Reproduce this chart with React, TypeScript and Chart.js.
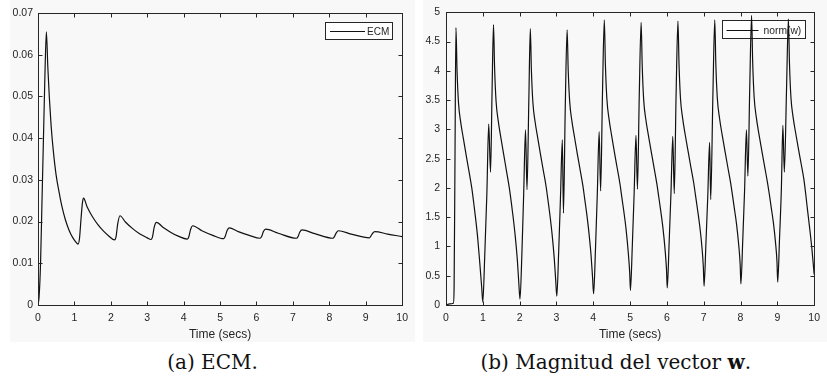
import React, { useEffect, useRef } from "react";
import { Chart, registerables } from "chart.js";

Chart.register(...registerables);

// ---------------- data ----------------
const timeTicks = [0, 1, 2, 3, 4, 5, 6, 7, 8, 9, 10];
const ecmTicks = [0, 0.01, 0.02, 0.03, 0.04, 0.05, 0.06, 0.07];
const normTicks = [0, 0.5, 1, 1.5, 2, 2.5, 3, 3.5, 4, 4.5, 5];

const ecmLabel = "ECM";
const normLabel = "norm(w)";
const xAxisTitle = "Time (secs)";
const captionA = "(a) ECM.";
const captionBText = "(b) Magnitud del vector ";
const captionBBold = "w";
const captionBEnd = ".";

const ecmTime = [
  0, 0.03, 0.07, 0.11, 0.15, 0.19, 0.23, 0.27, 0.31, 0.36, 0.42, 0.5, 0.58, 0.66, 0.75, 0.85, 0.95, 1.03, 1.1,
  1.14, 1.18, 1.22, 1.25, 1.35, 1.5, 1.65, 1.8, 1.95, 2.1,
  2.14, 2.19, 2.25, 2.4, 2.6, 2.8, 3.0, 3.1,
  3.14, 3.19, 3.25, 3.45, 3.65, 3.85, 4.1,
  4.14, 4.19, 4.25, 4.5, 4.8, 5.1,
  5.14, 5.19, 5.25, 5.5, 5.8, 6.1,
  6.14, 6.19, 6.25, 6.6, 7.1,
  7.14, 7.19, 7.25, 7.6, 8.1,
  8.14, 8.19, 8.25, 8.6, 9.1,
  9.14, 9.19, 9.25, 9.6, 10,
];
const ecmValues = [
  0, 0.002, 0.01, 0.025, 0.04, 0.055, 0.0655, 0.057, 0.05, 0.043, 0.037, 0.031, 0.027, 0.0235, 0.0205, 0.018, 0.0162, 0.0152, 0.0146,
  0.016, 0.0205, 0.0245, 0.0256, 0.0235, 0.0211, 0.0192, 0.0177, 0.0165, 0.0156,
  0.0162, 0.0195, 0.0214, 0.0199, 0.0183, 0.017, 0.0161, 0.0157,
  0.0162, 0.0186, 0.0198, 0.0185, 0.0174, 0.0165, 0.0158,
  0.0163, 0.0181, 0.019, 0.0178, 0.0167, 0.0159,
  0.0164, 0.0178, 0.0185, 0.0176, 0.0167, 0.016,
  0.0164, 0.0176, 0.0182, 0.0172, 0.016,
  0.0164, 0.0175, 0.018, 0.0171, 0.016,
  0.0164, 0.0173, 0.0178, 0.017, 0.0161,
  0.0165, 0.0172, 0.0176, 0.017, 0.0164,
];

const normTime = [
  0, 0.1, 0.2, 0.22, 0.245, 0.27, 0.3, 0.34, 0.4, 0.47, 0.55, 0.62, 0.7, 0.75, 0.8, 0.86, 0.92, 0.97, 1.0,
  1.05, 1.11, 1.16, 1.21, 1.25, 1.29, 1.32, 1.36, 1.42, 1.49, 1.57, 1.64, 1.72, 1.77, 1.82, 1.88, 1.94, 1.98, 2.01,
  2.06, 2.11, 2.16, 2.2, 2.25, 2.29, 2.32, 2.36, 2.42, 2.49, 2.57, 2.64, 2.72, 2.77, 2.82, 2.88, 2.94, 2.98, 3.01,
  3.06, 3.11, 3.16, 3.19, 3.24, 3.29, 3.32, 3.36, 3.42, 3.49, 3.57, 3.64, 3.72, 3.77, 3.82, 3.88, 3.94, 3.98, 4.01,
  4.06, 4.11, 4.16, 4.2, 4.25, 4.3, 4.33, 4.37, 4.43, 4.5, 4.58, 4.65, 4.73, 4.78, 4.83, 4.89, 4.95, 4.99, 5.01,
  5.06, 5.11, 5.16, 5.2, 5.25, 5.3, 5.33, 5.37, 5.43, 5.5, 5.58, 5.65, 5.73, 5.78, 5.83, 5.89, 5.95, 5.99, 6.01,
  6.06, 6.11, 6.16, 6.2, 6.25, 6.3, 6.33, 6.37, 6.43, 6.5, 6.58, 6.65, 6.73, 6.78, 6.83, 6.89, 6.95, 6.99, 7.01,
  7.06, 7.11, 7.16, 7.19, 7.25, 7.3, 7.33, 7.37, 7.43, 7.5, 7.58, 7.65, 7.73, 7.78, 7.83, 7.89, 7.95, 7.99, 8.01,
  8.06, 8.11, 8.16, 8.2, 8.25, 8.3, 8.33, 8.37, 8.43, 8.5, 8.58, 8.65, 8.73, 8.78, 8.83, 8.89, 8.95, 8.99, 9.01,
  9.06, 9.11, 9.15, 9.19, 9.25, 9.3, 9.33, 9.37, 9.43, 9.5, 9.58, 9.65, 9.72, 9.77, 9.82, 9.88, 9.94, 10.0,
];
const normValues = [
  0, 0.02, 0.03, 0.3, 2.6, 4.74, 4.0, 3.45, 3.12, 2.85, 2.55, 2.3, 2.0, 1.76, 1.5, 1.15, 0.7, 0.3, 0.05,
  0.8, 1.9, 3.09, 2.27, 3.6, 4.79, 4.05, 3.48, 3.14, 2.86, 2.56, 2.3, 2.0, 1.77, 1.52, 1.18, 0.75, 0.35, 0.1,
  0.85, 1.9, 2.99, 1.97, 3.5, 4.72, 4.0, 3.46, 3.13, 2.86, 2.56, 2.31, 2.02, 1.79, 1.55, 1.22, 0.8, 0.42, 0.15,
  0.9, 1.85, 2.82, 1.57, 3.4, 4.7, 4.0, 3.47, 3.14, 2.87, 2.57, 2.32, 2.03, 1.8, 1.57, 1.25, 0.85, 0.48, 0.19,
  0.95, 1.9, 2.96, 1.95, 3.6, 4.87, 4.1, 3.52, 3.17, 2.89, 2.59, 2.34, 2.05, 1.82, 1.6, 1.3, 0.9, 0.55, 0.25,
  1.0, 1.9, 2.9, 1.98, 3.6, 4.83, 4.08, 3.5, 3.16, 2.89, 2.6, 2.35, 2.06, 1.84, 1.62, 1.33, 0.95, 0.6, 0.29,
  1.05, 1.9, 2.88, 1.9, 3.6, 4.85, 4.1, 3.52, 3.18, 2.9, 2.61, 2.36, 2.08, 1.86, 1.64, 1.36, 1.0, 0.65, 0.32,
  1.05, 1.85, 2.78, 1.8, 3.6, 4.87, 4.1, 3.53, 3.19, 2.91, 2.62, 2.37, 2.09, 1.88, 1.66, 1.39, 1.03, 0.7, 0.36,
  1.1, 1.95, 2.99, 2.2, 3.7, 4.95, 4.15, 3.55, 3.2, 2.92, 2.63, 2.38, 2.1, 1.9, 1.68, 1.42, 1.07, 0.74, 0.39,
  1.15, 2.0, 3.07, 2.27, 3.7, 4.89, 4.12, 3.54, 3.2, 2.93, 2.64, 2.4, 2.15, 1.9, 1.62, 1.3, 0.95, 0.52,
];

// ---------------- styling ----------------
const INK = "#262626";
const LINE = "#111111";
const FIG_BG = "#f8f8f8";
const SANS = '"Liberation Sans", Arial, Helvetica, sans-serif';

const frameLegendPlugin = {
  id: "frameLegend",
  beforeDatasetsDraw(chart: any, _args: any, opts: any) {
    const L = opts && opts.legend;
    if (!L) return;
    const { ctx, chartArea: a } = chart;
    const right = Math.round(a.right - L.right) + 0.5;
    const top = Math.round(a.top + L.top) + 0.5;
    const left = right - L.width;
    ctx.save();
    ctx.fillStyle = "#ffffff";
    ctx.fillRect(left, top, L.width, L.height);
    ctx.strokeStyle = INK;
    ctx.lineWidth = 1;
    ctx.strokeRect(left, top, L.width, L.height);
    const cy = Math.round(top + L.height / 2) + 0.5;
    ctx.beginPath();
    ctx.moveTo(left + L.lineStart, cy);
    ctx.lineTo(left + L.lineEnd, cy);
    ctx.strokeStyle = LINE;
    ctx.lineWidth = 1.2;
    ctx.stroke();
    ctx.fillStyle = INK;
    ctx.font = `${L.fontSize}px ${SANS}`;
    ctx.textBaseline = "middle";
    ctx.textAlign = "left";
    ctx.fillText(L.text, left + L.textStart, cy + 0.5);
    ctx.restore();
  },
  afterDatasetsDraw(chart: any) {
    const { ctx, chartArea: a, scales } = chart;
    const x = scales.x;
    const y = scales.y;
    const l = Math.round(a.left) + 0.5;
    const r = Math.round(a.right) + 0.5;
    const t = Math.round(a.top) + 0.5;
    const b = Math.round(a.bottom) + 0.5;
    const tl = 4;
    ctx.save();
    ctx.strokeStyle = INK;
    ctx.lineWidth = 1;
    ctx.beginPath();
    x.ticks.forEach((tk: any) => {
      const px = Math.round(x.getPixelForValue(tk.value)) + 0.5;
      ctx.moveTo(px, b);
      ctx.lineTo(px, b - tl);
      ctx.moveTo(px, t);
      ctx.lineTo(px, t + tl);
    });
    y.ticks.forEach((tk: any) => {
      const py = Math.round(y.getPixelForValue(tk.value)) + 0.5;
      ctx.moveTo(l, py);
      ctx.lineTo(l + tl, py);
      ctx.moveTo(r, py);
      ctx.lineTo(r - tl, py);
    });
    ctx.stroke();
    ctx.strokeRect(l, t, r - l, b - t);
    ctx.restore();
  },
};

type PanelCfg = {
  width: number;
  height: number;
  times: number[];
  values: number[];
  yTicks: number[];
  yMax: number;
  yAxisWidth: number;
  yLabelPad: number;
  padTop: number;
  padRight: number;
  legend: any;
};

function makeChart(canvas: HTMLCanvasElement, cfg: PanelCfg) {
  const data = cfg.times.map((t, i) => ({ x: t, y: cfg.values[i] }));
  return new Chart(canvas, {
    type: "line",
    data: {
      datasets: [
        {
          label: cfg.legend.text,
          data,
          borderColor: LINE,
          borderWidth: 1.2,
          pointRadius: 0,
          fill: false,
          cubicInterpolationMode: "monotone",
        },
      ],
    },
    options: {
      animation: false,
      responsive: false,
      devicePixelRatio: 1,
      events: [],
      layout: { padding: { left: 0, top: cfg.padTop, right: cfg.padRight, bottom: 0 } },
      plugins: {
        legend: { display: false },
        tooltip: { enabled: false },
        frameLegend: { legend: cfg.legend },
      } as any,
      scales: {
        x: {
          type: "linear",
          min: 0,
          max: 10,
          afterBuildTicks: (s: any) => {
            s.ticks = timeTicks.map((v) => ({ value: v }));
          },
          afterFit: (s: any) => {
            s.height = 37;
          },
          grid: { display: false, drawTicks: false, tickLength: 0 },
          border: { display: false },
          ticks: {
            color: INK,
            padding: 7,
            maxRotation: 0,
            autoSkip: false,
            font: { family: SANS, size: 10.5 },
            callback: (v: any) => String(v),
          },
          title: {
            display: true,
            text: xAxisTitle,
            color: INK,
            padding: { top: 0, bottom: 0 },
            font: { family: SANS, size: 12, lineHeight: 1.2 },
          },
        },
        y: {
          type: "linear",
          min: 0,
          max: cfg.yMax,
          afterBuildTicks: (s: any) => {
            s.ticks = cfg.yTicks.map((v) => ({ value: v }));
          },
          afterFit: (s: any) => {
            s.width = cfg.yAxisWidth;
          },
          grid: { display: false, drawTicks: false, tickLength: 0 },
          border: { display: false },
          ticks: {
            color: INK,
            padding: cfg.yLabelPad,
            autoSkip: false,
            font: { family: SANS, size: 10.5 },
            callback: (v: any) => String(v),
          },
        },
      },
    },
    plugins: [frameLegendPlugin as any],
  });
}

function Panel(props: { left: number; cfg: PanelCfg }) {
  const ref = useRef<HTMLCanvasElement | null>(null);
  useEffect(() => {
    if (!ref.current) return;
    const ch = makeChart(ref.current, props.cfg);
    return () => ch.destroy();
  }, []);
  return (
    <div
      style={{
        position: "absolute",
        left: props.left,
        top: 0,
        width: props.cfg.width,
        height: props.cfg.height,
        background: FIG_BG,
      }}
    >
      <canvas
        ref={ref}
        width={props.cfg.width}
        height={props.cfg.height}
        style={{ display: "block", width: props.cfg.width, height: props.cfg.height }}
      />
    </div>
  );
}

const leftCfg: PanelCfg = {
  width: 405,
  height: 342,
  times: ecmTime,
  values: ecmValues,
  yTicks: ecmTicks,
  yMax: 0.07,
  yAxisWidth: 28,
  yLabelPad: 5,
  padTop: 13,
  padRight: 6,
  legend: { text: ecmLabel, right: 10, top: 9, width: 67, height: 17, lineStart: 4.5, lineEnd: 39.5, textStart: 41.5, fontSize: 10 },
};

const rightCfg: PanelCfg = {
  width: 404,
  height: 342,
  times: normTime,
  values: normValues,
  yTicks: normTicks,
  yMax: 5,
  yAxisWidth: 23,
  yLabelPad: 6,
  padTop: 7.5,
  padRight: 5,
  legend: { text: normLabel, right: 9, top: 8, width: 83, height: 18, lineStart: 4, lineEnd: 36, textStart: 41, fontSize: 10.3 },
};

const captionStyle: React.CSSProperties = {
  position: "absolute",
  top: 350,
  transform: "translateX(-50%)",
  whiteSpace: "nowrap",
  fontFamily: '"DejaVu Serif", "Liberation Serif", serif',
  fontSize: 20,
  lineHeight: "24px",
  color: "#111",
};

export default function App() {
  return (
    <div style={{ position: "absolute", left: 0, top: 0, width: 827, height: 388, background: "#ffffff", overflow: "hidden" }}>
      <Panel left={10} cfg={leftCfg} />
      <Panel left={423} cfg={rightCfg} />
      <div style={{ ...captionStyle, left: 212.5 }}>{captionA}</div>
      <div style={{ ...captionStyle, left: 615.8 }}>
        {captionBText}
        <b>{captionBBold}</b>
        {captionBEnd}
      </div>
    </div>
  );
}
